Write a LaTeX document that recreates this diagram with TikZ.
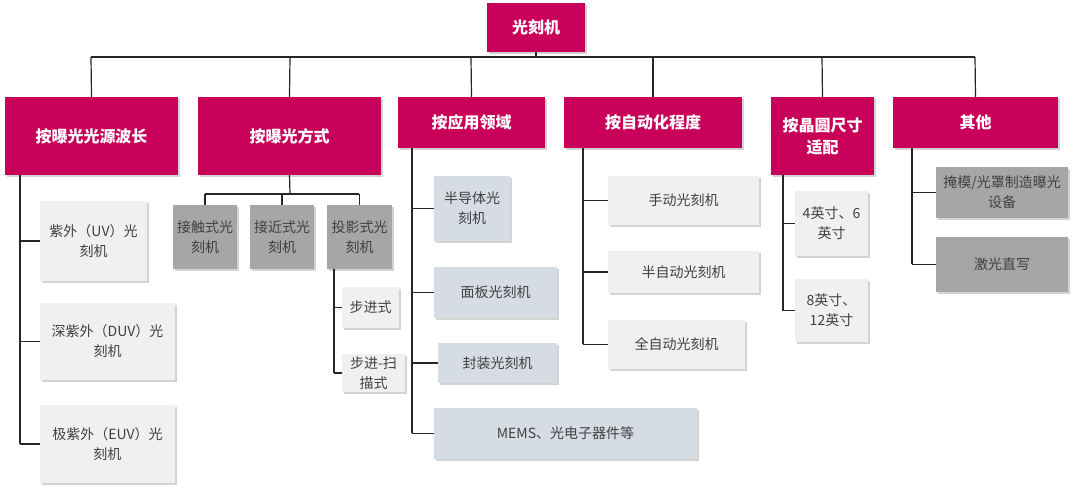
\documentclass[tikz,border=0pt]{standalone}
\usepackage{fontspec}
\setmainfont{Noto Sans CJK SC}
\usetikzlibrary{shadows}
\definecolor{magenta}{RGB}{200,0,90}
\definecolor{lgray}{RGB}{240,240,240}
\definecolor{dgray}{RGB}{166,166,166}
\definecolor{lblue}{RGB}{214,220,228}
\definecolor{txt}{RGB}{64,64,64}
\tikzset{
  box/.style={draw=none, drop shadow={shadow xshift=1.5pt, shadow yshift=-1.5pt, opacity=0.35}, text=txt, font=\fontsize{14}{20}\selectfont, align=center},
  head/.style={box, fill=magenta, text=white, font=\fontsize{16}{22}\selectfont\bfseries},
  light/.style={box, fill=lgray},
  dark/.style={box, fill=dgray},
  blue/.style={box, fill=lblue},
  link/.style={line width=1.2pt, black!85}
}
\newcommand{\boxat}[6]{\node[#1, minimum width=#4-#2, minimum height=#5-#3, inner sep=0pt] (#6) at ({(#2+#4)/2},{(#3+#5)/2})}
\begin{document}
\begin{tikzpicture}[x=1pt, y=-1pt]
\useasboundingbox (0,0) rectangle (1080,498);
% root and first level
\boxat{head}{487}{3}{585}{52}{root} {光刻机};
\boxat{head}{5}{97}{178}{175}{wave} {按曝光光源波长};
\boxat{head}{198}{97}{381}{175}{mode} {按曝光方式};
\boxat{head}{398}{97}{545}{148}{appl} {按应用领域};
\boxat{head}{564}{97}{742}{148}{auto} {按自动化程度};
\boxat{head}{771}{97}{874}{175}{wafer} {按晶圆尺寸\\适配};
\boxat{head}{893}{97}{1058}{148}{other} {其他};
\draw[link] (root.south) -- (536,57);
\draw[link] (91,57) -- (975,57);
\foreach \n/\x in {wave/91, mode/290, appl/471, auto/653, wafer/822, other/975}
  \draw[link] (\x,57) -- (\n.north);
% by wavelength
\boxat{light}{40}{201}{147}{281}{uv} {紫外（UV）光\\刻机};
\boxat{light}{40}{303}{175}{380}{duv} {深紫外（DUV）光\\刻机};
\boxat{light}{40}{405}{175}{483}{euv} {极紫外（EUV）光\\刻机};
\draw[link] (20,175) -- (20,444);
\foreach \n in {uv,duv,euv} \draw[link] (20,0 |- \n.west) -- (\n.west);
% by exposure mode
\boxat{dark}{173}{205}{237}{269}{contact} {接触式光\\刻机};
\boxat{dark}{250}{205}{314}{269}{proxim} {接近式光\\刻机};
\boxat{dark}{327}{205}{392}{269}{proj} {投影式光\\刻机};
\draw[link] (mode.south) -- (290,194);
\draw[link] (205,194) -- (359,194);
\foreach \n in {contact,proxim,proj} \draw[link] (\n.north |- 0,194) -- (\n.north);
\boxat{light}{342}{287}{399}{328}{step} {步进式};
\boxat{light}{342}{354}{405}{392}{scan} {步进-扫\\描式};
\draw[link] (334,269) -- (334,373);
\foreach \n in {step,scan} \draw[link] (334,0 |- \n.west) -- (\n.west);
% by application
\boxat{blue}{434}{176}{510}{241}{semi} {半导体光\\刻机};
\boxat{blue}{434}{267}{557}{318}{panel} {面板光刻机};
\boxat{blue}{438}{343}{557}{383}{pack} {封装光刻机};
\boxat{blue}{434}{408}{697}{459}{mems} {MEMS、光电子器件等};
\draw[link] (412,148) -- (412,433);
\foreach \n in {semi,panel,pack,mems} \draw[link] (412,0 |- \n.west) -- (\n.west);
% by automation
\boxat{light}{608}{176}{759}{225}{manual} {手动光刻机};
\boxat{light}{608}{251}{759}{293}{semiauto} {半自动光刻机};
\boxat{light}{608}{320}{745}{369}{fullauto} {全自动光刻机};
\draw[link] (583,148) -- (583,344);
\foreach \n in {manual,semiauto,fullauto} \draw[link] (583,0 |- \n.west) -- (\n.west);
% by wafer size
\boxat{light}{795}{191}{868}{256}{small} {4英寸、6\\英寸};
\boxat{light}{795}{279}{868}{342}{large} {8英寸、\\12英寸};
\draw[link] (783,175) -- (783,311);
\foreach \n in {small,large} \draw[link] (783,0 |- \n.west) -- (\n.west);
% others
\boxat{dark}{936}{167}{1068}{218}{mask} {掩模/光罩制造曝光\\设备};
\boxat{dark}{936}{237}{1068}{292}{laser} {激光直写};
\draw[link] (912,148) -- (912,264);
\foreach \n in {mask,laser} \draw[link] (912,0 |- \n.west) -- (\n.west);
\end{tikzpicture}
\end{document}
